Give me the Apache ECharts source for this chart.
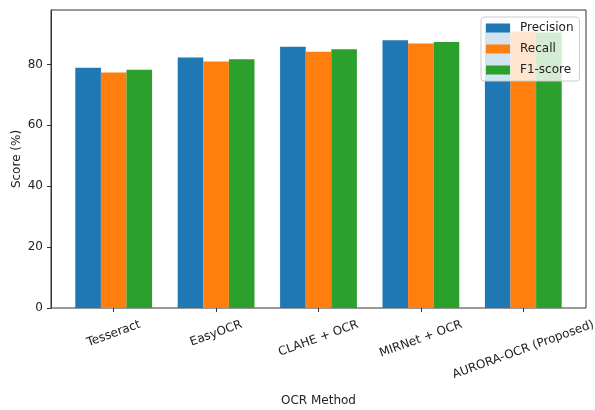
<!DOCTYPE html>
<html><head><meta charset="utf-8">
<script src="https://cdn.jsdelivr.net/npm/echarts@6/dist/echarts.min.js"></script>
<style>html,body{margin:0;padding:0;background:#fff}#c{width:595px;height:410px}</style>
</head><body><div id="c"></div>
<script>
const categories = ['Tesseract', 'EasyOCR', 'CLAHE + OCR', 'MIRNet + OCR', 'AURORA-OCR (Proposed)'];
const precision = [78.9, 82.3, 85.8, 88.0, 93.2];
const recall = [77.4, 81.0, 84.2, 86.9, 90.8];
const f1score = [78.3, 81.7, 85.0, 87.4, 90.5];
const yTicks = [0, 20, 40, 60, 80];
const seriesNames = ['Precision', 'Recall', 'F1-score'];
const colors = ['#1f77b4', '#ff7f0e', '#2ca02c'];

const FONT = 'DejaVu Sans';
const FS = 12;
const LH = 13;
const ROT = 20 * Math.PI / 180;
const ctx = document.createElement('canvas').getContext('2d');
ctx.font = FS + 'px "' + FONT + '"';
// matplotlib-style centred rotated labels: move each label's centre down by half its rotated height
const catItems = categories.map(function (c) {
  const L = ctx.measureText(c).width;
  const H = L * Math.sin(ROT) + LH * Math.cos(ROT);
  const D = H / 2 + 1;
  return { value: c, textStyle: {
    align: 'center', verticalAlign: 'top', lineHeight: LH,
    padding: [Math.max(0, D * Math.cos(ROT) - LH / 2), 2 * D * Math.sin(ROT), 0, 0]
  } };
});

const YMAX = 97.9;
const axisColor = '#333';
const textColor = '#222';

const chart = echarts.init(document.getElementById('c'), null, { renderer: 'canvas' });
const data = [precision, recall, f1score];
chart.setOption({
  animation: false,
  textStyle: { fontFamily: FONT },
  grid: [
    { left: 51, right: 9, top: 10, bottom: 102, show: true, borderColor: axisColor, borderWidth: 1, backgroundColor: 'transparent', containLabel: false, outerBoundsMode: 'none' },
    { left: 62.5, right: 20.5, top: 10, bottom: 102, containLabel: false, outerBoundsMode: 'none' }
  ],
  xAxis: [
    { gridIndex: 0, type: 'value', min: 0, max: 1, show: false },
    {
      gridIndex: 1, type: 'category', data: catItems,
      axisLine: { show: false },
      axisTick: { show: true, alignWithLabel: true, interval: 0, length: 4, lineStyle: { color: axisColor } },
      axisLabel: { interval: 0, rotate: 20, align: 'center', verticalAlign: 'top', margin: 9, fontSize: FS, color: textColor, fontFamily: FONT },
      splitLine: { show: false },
      name: 'OCR Method', nameLocation: 'middle', nameGap: 87, nameMoveOverlap: false,
      nameTextStyle: { fontSize: FS, color: textColor, fontFamily: FONT }
    }
  ],
  yAxis: [
    {
      gridIndex: 0, type: 'value', min: 0, max: YMAX, interval: 20,
      axisLine: { show: true, lineStyle: { color: axisColor } },
      axisTick: { show: true, length: 4, customValues: yTicks, lineStyle: { color: axisColor } },
      axisLabel: { margin: 8, fontSize: FS, color: textColor, fontFamily: FONT, customValues: yTicks },
      splitLine: { show: false },
      name: 'Score (%)', nameLocation: 'middle', nameGap: 28, nameMoveOverlap: false,
      nameTextStyle: { fontSize: FS, color: textColor, fontFamily: FONT }
    },
    { gridIndex: 1, type: 'value', min: 0, max: YMAX, show: false }
  ],
  legend: {
    orient: 'vertical', left: 481, top: 17,
    itemWidth: 24, itemHeight: 9, itemGap: 9,
    padding: [5, 6, 5, 5],
    backgroundColor: 'rgba(255,255,255,0.8)', borderColor: '#ccc', borderWidth: 1, borderRadius: 3,
    icon: 'rect',
    textStyle: { fontSize: FS, color: textColor, fontFamily: FONT, padding: [0, 0, 0, 5] },
    data: seriesNames
  },
  series: seriesNames.map(function (n, i) {
    return {
      name: n, type: 'bar', xAxisIndex: 1, yAxisIndex: 1,
      barWidth: 25.6, barGap: '0%',
      itemStyle: { color: colors[i] },
      data: data[i]
    };
  })
});
</script>
</body></html>
